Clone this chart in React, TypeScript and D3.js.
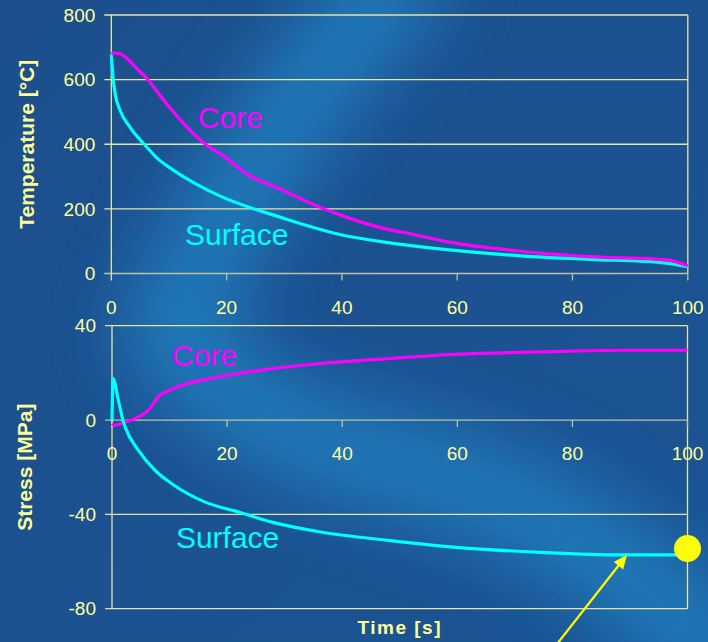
import React from "react";
import * as d3 from "d3";

// temperature panel (time in s, temperature in °C)
const tempCoreTime = [0, 1.5, 2.7, 4.4, 6.4, 8.5, 10.5, 13.9, 16.5, 19.7, 23.8, 29, 35.9, 40.5, 48.3, 51, 59.9, 71.5, 83, 96.3, 100];
const tempCore = [682, 680, 666, 635, 599, 550, 506, 439, 398, 361, 305, 264, 207, 176, 135, 126, 93, 68, 52, 42, 24];
const tempSurfTime = [0, 0.35, 0.65, 1.5, 3.2, 5.55, 7.9, 10.5, 14.5, 19.1, 24.4, 29, 33.6, 40, 48.3, 60, 71.5, 83, 95.8, 100];
const tempSurf = [676, 599, 558, 506, 454, 403, 358, 323, 279, 238, 202, 176, 150, 119, 95, 71, 54, 44, 33, 21];

// stress panel (MPa)
const stressCoreTime = [0, 0.5, 2, 4, 6.3, 8.3, 10, 12.1, 16.2, 22, 27.8, 36.5, 48.3, 59.9, 74.4, 88.8, 100];
const stressCore = [-1.5, -2.3, -1, 0.6, 4.1, 10.5, 12.5, 14.7, 17.2, 19.7, 21.8, 24, 26.1, 27.9, 28.9, 29.6, 29.6];
const stressSurfTime = [0, 0.2, 1.1, 1.9, 2.3, 4.6, 7.5, 10.4, 16.2, 22, 27.8, 36.5, 48.3, 59.9, 74.4, 88.8, 100];
const stressSurf = [0, 17.6, 8.4, 0, -3, -12.9, -21.4, -27, -34.8, -39, -43.3, -47.6, -51.1, -54, -56.1, -57.2, -57.2];

const xTicks = [0, 20, 40, 60, 80, 100];
const tempTicks = [0, 200, 400, 600, 800];
const stressTicks = [-80, -40, 0, 40];

// annotation spots, in data units
const tempLabels = [
  { text: "Core", t: 15, v: 450, color: "#ff00ff" },
  { text: "Surface", t: 12.8, v: 88, color: "#00ffff" },
];
const stressLabels = [
  { text: "Core", t: 10.4, v: 22.8, color: "#ff00ff" },
  { text: "Surface", t: 11.1, v: -54.1, color: "#00ffff" },
];
const marker = { t: 100, v: -54.5 };
const arrowFrom = { t: 77, v: -96 };
const arrowTo = { t: 89.5, v: -57.1 };

const W = 708;
const H = 642;
const txt = "#ffff99";
const axisCol = "#e6e6a0";
const font = "'Liberation Sans', Arial, sans-serif";

const pts = (ts: number[], vs: number[]) => ts.map((t, i) => [t, vs[i]] as [number, number]);

const Panel = ({ x, y, ticks, lines, labels, title, titleX }: any) => {
  const line = d3.line<[number, number]>().x((d) => x(d[0])).y((d) => y(d[1])).curve(d3.curveMonotoneX);
  const [x0, x1] = x.range();
  const [yb, yt] = y.range();
  const y0 = y(0);
  const titleY = (yb + yt) / 2;
  return (
    <g>
      {ticks.map((v: number) => (
        <g key={v}>
          <line x1={x0 - 7} x2={x1} y1={y(v)} y2={y(v)} stroke={v === 0 ? "#b8c4a4" : axisCol} strokeWidth={1.3} />
          <text x={x0 - 16} y={y(v)} dy="0.35em" textAnchor="end" fill={txt} fontSize={19} fontFamily={font}>
            {v}
          </text>
        </g>
      ))}
      <line x1={x0} x2={x0} y1={yt} y2={yb} stroke={axisCol} strokeWidth={1.3} />
      <line x1={x1} x2={x1} y1={yt} y2={yb} stroke={axisCol} strokeWidth={1.3} />
      {xTicks.map((t) => (
        <g key={t}>
          <line x1={x(t)} x2={x(t)} y1={y0} y2={y0 + 7} stroke={t === 0 ? axisCol : "#b8c4a4"} strokeWidth={1.3} />
          <text x={x(t)} y={y0 + 40} textAnchor="middle" fill={txt} fontSize={19} fontFamily={font}>
            {t}
          </text>
        </g>
      ))}
      {lines.map((l: any, i: number) => (
        <path key={i} d={line(l.data) || ""} fill="none" stroke={l.color} strokeWidth={3.2} strokeLinejoin="round" />
      ))}
      {labels.map((l: any) => (
        <text key={l.text} x={x(l.t)} y={y(l.v)} fill={l.color} fontSize={30} fontFamily={font}>
          {l.text}
        </text>
      ))}
      <text
        transform={`translate(${titleX},${titleY}) rotate(-90)`}
        textAnchor="middle"
        dy="0.35em"
        fill={txt}
        fontSize={21}
        fontWeight="bold"
        fontFamily={font}
      >
        {title}
      </text>
    </g>
  );
};

export default function App() {
  const xTop = d3.scaleLinear().domain([0, 100]).range([111.3, 687.8]);
  const yTop = d3.scaleLinear().domain([0, 800]).range([273.5, 15]);
  const xBot = d3.scaleLinear().domain([0, 100]).range([112, 687.5]);
  const yBot = d3.scaleLinear().domain([-80, 40]).range([608.7, 325.7]);

  const ax = xBot(arrowFrom.t), ay = yBot(arrowFrom.v);
  const bx = xBot(arrowTo.t), by = yBot(arrowTo.v);
  const ang = Math.atan2(by - ay, bx - ax);
  const hl = 14, hw = 6;
  const head = [
    [bx, by],
    [bx - hl * Math.cos(ang) + hw * Math.sin(ang), by - hl * Math.sin(ang) - hw * Math.cos(ang)],
    [bx - hl * Math.cos(ang) - hw * Math.sin(ang), by - hl * Math.sin(ang) + hw * Math.cos(ang)],
  ];

  return (
    <svg width={W} height={H} style={{ position: "absolute", left: 0, top: 0 }}>
      <defs>
        <filter id="blur" x="-50%" y="-50%" width="200%" height="200%">
          <feGaussianBlur stdDeviation="38" />
        </filter>
        <linearGradient id="bg" x1="0" y1="0" x2="1" y2="1">
          <stop offset="0" stopColor="#1d4f8e" />
          <stop offset="1" stopColor="#1b5494" />
        </linearGradient>
      </defs>
      <rect width={W} height={H} fill="url(#bg)" />
      <g filter="url(#blur)" opacity={0.85}>
        <path d="M 420 -40 Q 260 120 170 330 Q 230 430 420 470 Q 600 520 740 680" fill="none" stroke="#2384c4" strokeWidth={90} />
      </g>
      <Panel
        x={xTop}
        y={yTop}
        ticks={tempTicks}
        title="Temperature [°C]"
        titleX={27}
        labels={tempLabels}
        lines={[
          { data: pts(tempSurfTime, tempSurf), color: "#00ffff" },
          { data: pts(tempCoreTime, tempCore), color: "#ff00ff" },
        ]}
      />
      <Panel
        x={xBot}
        y={yBot}
        ticks={stressTicks}
        title="Stress [MPa]"
        titleX={25}
        labels={stressLabels}
        lines={[
          { data: pts(stressCoreTime, stressCore), color: "#ff00ff" },
          { data: pts(stressSurfTime, stressSurf), color: "#00ffff" },
        ]}
      />
      <text x={(xBot(0) + xBot(100)) / 2} y={634} textAnchor="middle" fill={txt} fontSize={19} fontWeight="bold" letterSpacing={1.5} fontFamily={font}>
        Time [s]
      </text>
      <circle cx={xBot(marker.t)} cy={yBot(marker.v)} r={13.5} fill="#ffff00" />
      <line x1={ax} y1={ay} x2={bx - 8 * Math.cos(ang)} y2={by - 8 * Math.sin(ang)} stroke="#ffff00" strokeWidth={2.2} />
      <polygon points={head.map((p) => p.join(",")).join(" ")} fill="#ffff00" />
    </svg>
  );
}
